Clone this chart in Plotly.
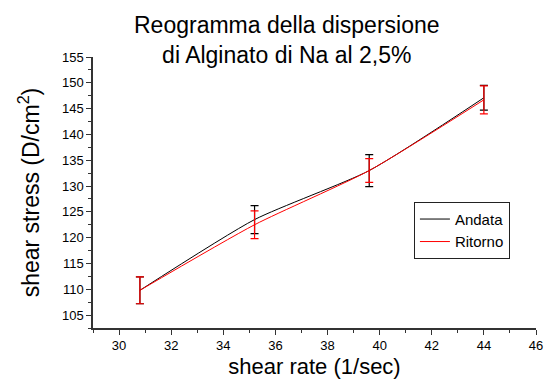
import plotly.graph_objects as go

shear_rate = [30.8, 35.2, 39.6, 44.0]
andata = [109.8, 123.5, 133.0, 147.1]
andata_err = [2.6, 2.7, 3.1, 2.4]
ritorno = [109.8, 122.5, 133.0, 146.7]
ritorno_err = [2.6, 2.7, 2.3, 2.7]

FONT = "Liberation Sans, Arial, sans-serif"

fig = go.Figure()
fig.add_trace(go.Scatter(
    x=shear_rate, y=andata, name="Andata", mode="lines",
    line=dict(color="black", width=1, shape="spline", smoothing=0.6),
    error_y=dict(type="data", array=andata_err, visible=True, color="black", thickness=1.2, width=4),
))
fig.add_trace(go.Scatter(
    x=shear_rate, y=ritorno, name="Ritorno", mode="lines",
    line=dict(color="red", width=1, shape="spline", smoothing=0.6),
    error_y=dict(type="data", array=ritorno_err, visible=True, color="red", thickness=1.2, width=4),
))

fig.add_annotation(
    text="Reogramma della dispersione<br>di Alginato di Na al 2,5%",
    xref="paper", yref="paper", x=(290 - 93) / 450, y=1 + (57 - 9) / 277,
    xanchor="center", yanchor="top", showarrow=False,
    font=dict(size=23, family=FONT, color="black"),
)

fig.update_layout(
    width=551, height=383,
    margin=dict(l=93, r=8, t=57, b=49),
    paper_bgcolor="white", plot_bgcolor="white",
    font=dict(family=FONT, color="black"),
    showlegend=True,
    legend=dict(x=(419 - 93) / 450, y=(334 - 205) / 277, xanchor="left", yanchor="top",
                bordercolor="#222", borderwidth=1, bgcolor="white",
                font=dict(size=15, family=FONT), tracegroupgap=0,
                itemwidth=30),
    xaxis=dict(range=[29, 46], dtick=2, tick0=30, showgrid=False, zeroline=False,
               showline=True, linecolor="#333", linewidth=1.5,
               ticks="outside", ticklen=5, tickcolor="#333",
               minor=dict(dtick=1, ticks="outside", ticklen=3, tickcolor="#333"),
               tickfont=dict(size=13, family=FONT),
               title=dict(text="shear rate (1/sec)", font=dict(size=22, family=FONT), standoff=6)),
    yaxis=dict(range=[102.5, 155], dtick=5, tick0=105, showgrid=False, zeroline=False,
               showline=True, linecolor="#333", linewidth=1.5,
               ticks="outside", ticklen=5, tickcolor="#333",
               minor=dict(dtick=2.5, ticks="outside", ticklen=3, tickcolor="#333"),
               tickfont=dict(size=13, family=FONT),
               title=dict(text="shear stress (D/cm<sup>2</sup>)", font=dict(size=23, family=FONT), standoff=16)),
)

fig.write_html("out.html")
